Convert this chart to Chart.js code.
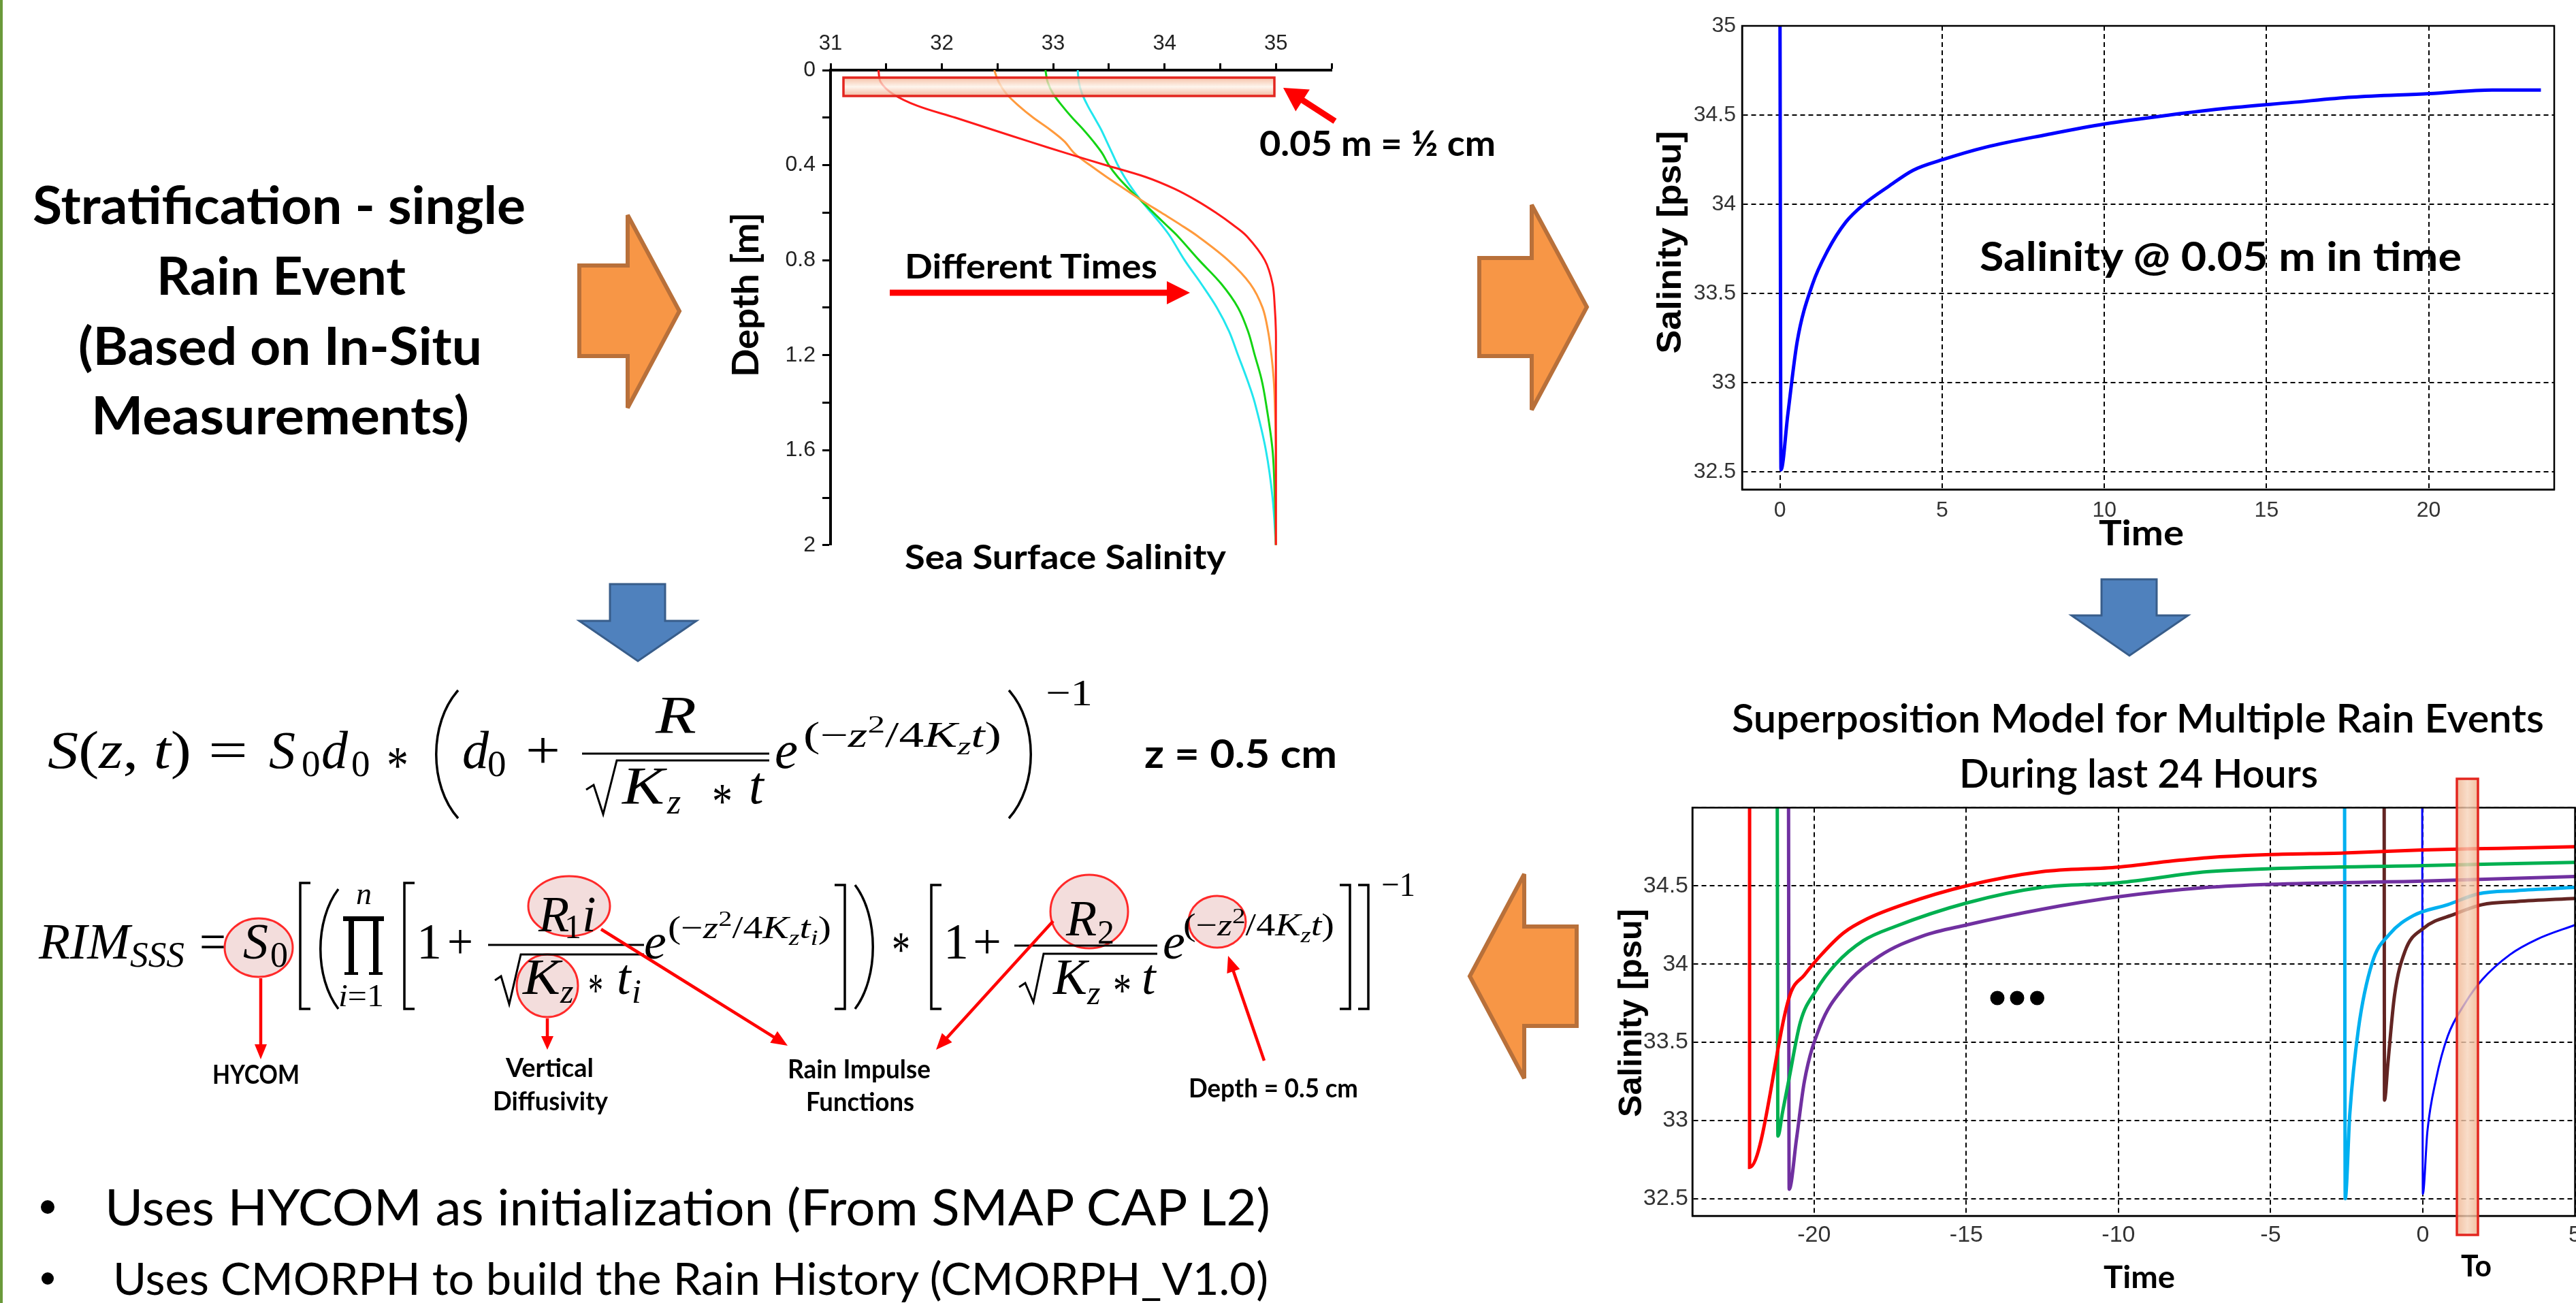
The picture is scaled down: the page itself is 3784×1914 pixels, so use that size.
<!DOCTYPE html>
<html>
<head>
<meta charset="utf-8">
<script src="https://cdn.jsdelivr.net/npm/chart.js@4.4.1/dist/chart.umd.min.js"></script>
<style>
  html, body { margin: 0; padding: 0; background: #fff; overflow: hidden; width: 3784px; height: 1914px; }
  canvas { position: absolute; }
  #deco { position: absolute; left: 0; top: 0; }
</style>
</head>
<body>
<canvas id="profile" width="880" height="800" style="left:1100px;top:30px;width:880px;height:800px"></canvas>
<canvas id="single" width="1311" height="769" style="left:2459px;top:0px;width:1311px;height:769px"></canvas>
<canvas id="multi" width="1414" height="671" style="left:2386px;top:1160px;width:1414px;height:671px"></canvas>
<svg id="deco" width="3784" height="1914" xmlns="http://www.w3.org/2000/svg">
  <defs>
    <linearGradient id="boxGrad" x1="0" y1="0" x2="0" y2="1">
      <stop offset="0" stop-color="#f3b08e"/>
      <stop offset="0.5" stop-color="#fdf2e8"/>
      <stop offset="1" stop-color="#efa988"/>
    </linearGradient>
    <linearGradient id="toGrad" x1="0" y1="0" x2="1" y2="0">
      <stop offset="0" stop-color="#eeb08a"/>
      <stop offset="0.5" stop-color="#f7d4bb"/>
      <stop offset="1" stop-color="#eeb08a"/>
    </linearGradient>
  </defs>
</svg>
<script>
// depth profiles (salinity vs depth, single rain event)
const depthLevels = [0, 0.05, 0.1, 0.15, 0.2, 0.25, 0.3, 0.35, 0.4, 0.45, 0.5, 0.55, 0.6, 0.65, 0.7, 0.8, 0.9, 1.0, 1.1, 1.2, 1.3, 1.4, 1.6, 1.8, 2.0];
const redProfile    = [31.43, 31.45, 31.56, 31.78, 32.12, 32.45, 32.78, 33.12, 33.47, 33.83, 34.09, 34.29, 34.46, 34.61, 34.74, 34.90, 34.97, 34.99, 35, 35, 35, 35, 35, 35, 35];
const orangeProfile = [32.47, 32.51, 32.58, 32.69, 32.82, 32.97, 33.10, 33.19, 33.33, 33.48, 33.64, 33.80, 33.97, 34.14, 34.30, 34.57, 34.77, 34.88, 34.93, 34.96, 34.98, 34.99, 35, 35, 35];
const greenProfile  = [32.93, 32.95, 33.00, 33.08, 33.17, 33.27, 33.36, 33.44, 33.50, 33.58, 33.68, 33.79, 33.90, 34.01, 34.12, 34.31, 34.51, 34.66, 34.75, 34.81, 34.87, 34.91, 34.97, 34.99, 35];
const cyanProfile   = [33.22, 33.23, 33.26, 33.31, 33.37, 33.43, 33.48, 33.53, 33.58, 33.64, 33.71, 33.79, 33.88, 33.97, 34.05, 34.18, 34.33, 34.47, 34.58, 34.66, 34.74, 34.81, 34.91, 34.97, 35];

// salinity at 0.05 m in time
const singleTime = [0, 0.03, 0.24, 0.53, 1.0, 1.47, 2.03, 2.59, 3.35, 4.10, 5.02, 6.35, 8.23, 10.02, 12.0, 13.87, 15.75, 17.63, 20.02, 21.96, 23.46];
const singleSal  = [35, 32.51, 32.82, 33.23, 33.55, 33.74, 33.90, 34.0, 34.10, 34.19, 34.25, 34.32, 34.39, 34.45, 34.50, 34.54, 34.57, 34.60, 34.62, 34.64, 34.64];

// superposition of rain events during last 24 hours
const redT    = [-22.12, -22.12, -20.78, -20.32, -19.81, -19.03, -18.25, -17.08, -15, -12.53, -10, -8.2, -7.1, -5, -2.6, 0, 2.5, 5];
const redS    = [35, 32.7, 33.81, 33.93, 34.05, 34.2, 34.29, 34.38, 34.5, 34.59, 34.62, 34.66, 34.68, 34.70, 34.71, 34.73, 34.74, 34.75];
const greenT  = [-21.21, -21.19, -21.04, -20.84, -20.45, -19.94, -19.29, -18.38, -17.34, -15, -12.53, -10, -7.1, -5, 0, 5];
const greenS  = [35, 32.9, 33.05, 33.25, 33.63, 33.83, 34.0, 34.15, 34.24, 34.39, 34.49, 34.52, 34.59, 34.61, 34.63, 34.65];
const purpleT = [-20.84, -20.82, -20.58, -20.32, -19.81, -19.03, -17.86, -16.43, -15, -12.53, -10, -7.1, -5, 0, 5];
const purpleS = [35, 32.56, 32.88, 33.25, 33.6, 33.85, 34.05, 34.18, 34.25, 34.35, 34.43, 34.49, 34.51, 34.53, 34.56];
const cyanT   = [-2.57, -2.55, -2.40, -2.12, -1.66, -1.10, -0.31, 0.82, 1.84, 3.09, 5];
const cyanS   = [35, 32.5, 33.04, 33.58, 34.01, 34.19, 34.31, 34.38, 34.45, 34.47, 34.49];
const brownT  = [-1.27, -1.26, -1.15, -0.93, -0.59, 0.03, 1.05, 1.95, 3.09, 5];
const brownS  = [35, 33.13, 33.36, 33.80, 34.08, 34.23, 34.32, 34.38, 34.40, 34.42];
const blueT   = [-0.02, 0, 0.15, 0.43, 0.82, 1.39, 1.95, 2.86, 3.77, 5];
const blueS   = [35, 32.53, 32.93, 33.26, 33.54, 33.75, 33.90, 34.06, 34.16, 34.25];

const ARIAL = "'Liberation Sans', Arial, sans-serif";
const NARROW = "'Liberation Sans Narrow', 'Liberation Sans', Arial, sans-serif";
const SANS = "Lato, 'Open Sans', sans-serif";
const SERIF = "'Liberation Serif', 'DejaVu Serif', serif";

const pairs = (xs, ys) => xs.map((x, i) => ({ x: x, y: ys[i] }));
const profile = sal => depthLevels.map((d, i) => ({ x: sal[i], y: d }));
const isWhole = v => Math.abs(v - Math.round(v)) < 1e-6;
const trimmed = v => String(Math.round(v * 10) / 10);

const frame = {
  id: 'frame',
  afterDatasetsDraw(chart, args, opts) {
    const a = chart.chartArea, ctx = chart.ctx;
    ctx.save();
    ctx.strokeStyle = '#000';
    ctx.lineWidth = opts.width;
    ctx.strokeRect(a.left, a.top, a.right - a.left, a.bottom - a.top);
    ctx.restore();
  }
};

const line = (data, color, w, mode) => ({
  data: data, borderColor: color, borderWidth: w, pointRadius: 0, fill: false,
  tension: mode ? 0 : 0.35, cubicInterpolationMode: mode || 'default'
});

new Chart(document.getElementById('profile'), {
  type: 'line',
  data: {
    datasets: [
      line(profile(redProfile), '#ff1a1a', 3),
      line(profile(orangeProfile), '#ff9a3c', 3),
      line(profile(greenProfile), '#14d414', 3),
      line(profile(cyanProfile), '#22e6ee', 3)
    ]
  },
  options: {
    responsive: false, animation: false,
    layout: { padding: { top: 0, right: 24, bottom: 26, left: 0 } },
    plugins: { legend: { display: false }, tooltip: { enabled: false } },
    scales: {
      x: {
        type: 'linear', position: 'top', min: 31, max: 35.5,
        afterFit: s => { s.height = 73; },
        ticks: { stepSize: 0.5, autoSkip: false, maxRotation: 0, padding: 10, color: '#222',
                 font: { family: ARIAL, size: 31 }, callback: v => isWhole(v) ? String(Math.round(v)) : '' },
        grid: { drawOnChartArea: false, drawTicks: true, tickLength: 10, tickWidth: 3, tickColor: '#000' },
        border: { display: true, color: '#000', width: 4 }
      },
      y: {
        type: 'linear', reverse: true, min: 0, max: 2,
        afterFit: s => { s.width = 120; },
        ticks: { stepSize: 0.2, autoSkip: false, padding: 10, color: '#222', font: { family: ARIAL, size: 32 },
                 callback: v => Math.round(v * 10) % 4 === 0 ? trimmed(v) : '' },
        grid: { drawOnChartArea: false, drawTicks: true, tickLength: 12, tickWidth: 3, tickColor: '#000' },
        border: { display: true, color: '#000', width: 4 }
      }
    }
  }
});

const matlabGrid = { color: '#000', lineWidth: 2, drawTicks: false };
const matlabBorder = { display: true, color: '#000', width: 2.5, dash: [7, 5] };

new Chart(document.getElementById('single'), {
  type: 'line',
  data: { datasets: [line(pairs(singleTime, singleSal), '#0000ff', 5, 'monotone')] },
  options: {
    responsive: false, animation: false,
    layout: { padding: { top: 38, right: 18, bottom: 0, left: 0 } },
    plugins: { legend: { display: false }, tooltip: { enabled: false }, frame: { width: 2.5 } },
    scales: {
      x: {
        type: 'linear', min: -1.17, max: 23.87,
        afterFit: s => { s.height = 50; },
        ticks: { stepSize: 5, includeBounds: false, autoSkip: false, maxRotation: 0, padding: 12, color: '#333',
                 font: { family: ARIAL, size: 32 } },
        grid: matlabGrid, border: matlabBorder
      },
      y: {
        type: 'linear', min: 32.4, max: 35,
        afterFit: s => { s.width = 100; },
        ticks: { stepSize: 0.5, includeBounds: false, autoSkip: false, padding: 9, color: '#333',
                 font: { family: ARIAL, size: 32 }, callback: trimmed },
        grid: matlabGrid, border: matlabBorder
      }
    }
  },
  plugins: [frame]
});

new Chart(document.getElementById('multi'), {
  type: 'line',
  data: {
    datasets: [
      line(pairs(redT, redS), '#ff0000', 5, 'monotone'),
      line(pairs(greenT, greenS), '#00b050', 5, 'monotone'),
      line(pairs(purpleT, purpleS), '#7030a0', 5, 'monotone'),
      line(pairs(cyanT, cyanS), '#00b0f0', 5, 'monotone'),
      line(pairs(brownT, brownS), '#632523', 5, 'monotone'),
      line(pairs(blueT, blueS), '#0000ff', 3, 'monotone')
    ]
  },
  options: {
    responsive: false, animation: false,
    layout: { padding: { top: 15, right: 15, bottom: 0, left: 0 } },
    plugins: { legend: { display: false }, tooltip: { enabled: false }, frame: { width: 2.5 } },
    scales: {
      x: {
        type: 'linear', min: -24, max: 5,
        afterFit: s => { s.height = 45; },
        ticks: { stepSize: 5, includeBounds: false, autoSkip: false, maxRotation: 0, padding: 8, color: '#333',
                 font: { family: NARROW, size: 34 } },
        grid: matlabGrid, border: matlabBorder
      },
      y: {
        type: 'linear', min: 32.39, max: 35,
        afterFit: s => { s.width = 100; },
        ticks: { stepSize: 0.5, includeBounds: false, autoSkip: false, padding: 6, color: '#333',
                 font: { family: NARROW, size: 34 }, callback: v => Math.abs(v - 35) < 1e-6 ? '' : trimmed(v) },
        grid: matlabGrid, border: matlabBorder
      }
    }
  },
  plugins: [frame]
});

// slide decoration: text, arrows, formulas
const svg = document.getElementById('deco');
function mk(tag, attrs, parent) {
  const e = document.createElementNS('http://www.w3.org/2000/svg', tag);
  for (const k in attrs) e.setAttribute(k, attrs[k]);
  (parent || svg).appendChild(e);
  return e;
}
function tx(str, x, y, o) {
  o = o || {};
  const a = { x: x, y: y, 'font-family': o.font || SANS, 'font-size': o.size || 40,
              'font-weight': o.weight || (o.bold ? 'bold' : 'normal'), fill: o.fill || '#000' };
  if (o.italic) a['font-style'] = 'italic';
  if (o.w) { a.textLength = o.w; a.lengthAdjust = 'spacingAndGlyphs'; }
  if (o.anchor) a['text-anchor'] = o.anchor;
  if (o.rot) a.transform = 'rotate(' + o.rot + ' ' + x + ' ' + y + ')';
  const t = mk('text', a);
  t.textContent = str;
  return t;
}
function mseg(x, y, size, segs, w) {
  const a = { x: x, y: y, 'font-family': SERIF, 'font-size': size };
  if (w) { a.textLength = w; a.lengthAdjust = 'spacingAndGlyphs'; }
  const t = mk('text', a);
  segs.forEach(s => {
    const ts = mk('tspan', { 'font-style': s[1] ? 'italic' : 'normal' }, t);
    ts.textContent = s[0];
  });
}
function mi(str, x, y, size, w) { return tx(str, x, y, { font: SERIF, size: size, italic: true, w: w }); }
function mu(str, x, y, size, w) { return tx(str, x, y, { font: SERIF, size: size, w: w }); }
function expo(x, y, w, size, withI) {
  const t = mk('text', { x: x, y: y, 'font-family': SERIF, 'font-size': size, textLength: w, lengthAdjust: 'spacingAndGlyphs' });
  const parts = [['(', 0, 0], ['\u2212', 0, 0], ['z', 1, 0], ['2', 0, -0.4, 0.7], ['/4', 0, 0], ['K', 1, 0], ['z', 1, 0.22, 0.7], ['t', 1, 0]];
  if (withI) parts.push(['i', 1, 0.22, 0.7]);
  parts.push([')', 0, 0]);
  let cur = 0;
  parts.forEach(p => {
    const off = p[2] * size;
    const ts = mk('tspan', { 'font-style': p[1] ? 'italic' : 'normal', 'font-size': size * (p[3] || 1), dy: off - cur }, t);
    cur = off;
    ts.textContent = p[0];
  });
}
function path(d, w, color) { return mk('path', { d: d, fill: 'none', stroke: color || '#000', 'stroke-width': w || 3 }); }
function bar(x1, x2, y, w) { mk('line', { x1: x1, y1: y, x2: x2, y2: y, stroke: '#000', 'stroke-width': w || 3 }); }
function arrow(x1, y1, x2, y2, w, hl, hw, color) {
  const dx = x2 - x1, dy = y2 - y1, L = Math.hypot(dx, dy), ux = dx / L, uy = dy / L;
  const bx = x2 - ux * hl, by = y2 - uy * hl;
  mk('line', { x1: x1, y1: y1, x2: bx + ux * 2, y2: by + uy * 2, stroke: color, 'stroke-width': w });
  mk('polygon', { points: x2 + ',' + y2 + ' ' + (bx - uy * hw) + ',' + (by + ux * hw) + ' ' + (bx + uy * hw) + ',' + (by - ux * hw), fill: color });
}
function ring(cx, cy, rx, ry) {
  mk('ellipse', { cx: cx, cy: cy, rx: rx, ry: ry, fill: '#f2d9d8', 'fill-opacity': 0.9, stroke: '#ff2a2a', 'stroke-width': 3 });
}

// left border
mk('rect', { x: 0, y: 0, width: 4, height: 1914, fill: '#6a9a3a' });

// left title block
tx('Stratification - single', 48, 329, { size: 76, bold: true, w: 724 });
tx('Rain Event', 230, 433, { size: 76, bold: true, w: 366 });
tx('(Based on In-Situ', 115, 536, { size: 76, bold: true, w: 593 });
tx('Measurements)', 134, 638, { size: 76, bold: true, w: 555 });

// block arrows
const orange = { fill: '#f79646', stroke: '#b8703a', 'stroke-width': 6, 'stroke-linejoin': 'miter' };
mk('polygon', Object.assign({ points: '851,390 922,390 922,316 998,457 922,599 922,523 851,523' }, orange));
mk('polygon', Object.assign({ points: '2173,379 2250,379 2250,301 2331,451 2250,602 2250,523 2173,523' }, orange));
mk('polygon', Object.assign({ points: '2316,1361 2239,1361 2239,1284 2159,1434 2239,1584 2239,1507 2316,1507' }, orange));
const blue = { fill: '#4f81bd', stroke: '#385d8a', 'stroke-width': 3 };
mk('polygon', Object.assign({ points: '896,858 977,858 977,912 1023,912 937,971 851,912 896,912' }, blue));
mk('polygon', Object.assign({ points: '3087,851 3168,851 3168,904 3214,904 3128,963 3043,904 3087,904' }, blue));

// profile chart annotations
mk('rect', { x: 1239, y: 114, width: 633, height: 27, fill: 'url(#boxGrad)', 'fill-opacity': 0.78, stroke: '#e3261f', 'stroke-width': 3.5 });
arrow(1961, 178, 1885, 129, 9, 34, 19, '#ff0000');
tx('0.05 m = \u00bd cm', 1850, 229, { size: 52, bold: true, w: 347 });
tx('Different Times', 1329, 409, { size: 50, bold: true, w: 371 });
arrow(1307, 430, 1748, 430, 9, 34, 17, '#ff0000');
tx('Depth [m]', 1114, 433, { size: 54, bold: true, w: 242, anchor: 'middle', rot: -90 });
tx('Sea Surface Salinity', 1329, 836, { size: 50, bold: true, w: 472 });

// single event chart labels
tx('Salinity [psu]', 2469, 356, { font: ARIAL, size: 50, bold: true, w: 327, anchor: 'middle', rot: -90 });
tx('Time', 3083, 801, { size: 52, bold: true, w: 125 });
tx('Salinity @ 0.05 m in time', 2908, 398, { size: 60, bold: true, w: 708 });

// superposition chart labels
tx('Superposition Model for Multiple Rain Events', 2544, 1076, { size: 58, weight: 600, w: 1193 });
tx('During last 24 Hours', 2878, 1157, { size: 58, weight: 600, w: 527 });
tx('Salinity [psu]', 2411, 1488, { font: ARIAL, size: 48, bold: true, w: 306, anchor: 'middle', rot: -90 });
tx('Time', 3090, 1892, { size: 46, bold: true, w: 105 });
[2934, 2963, 2992.5].forEach(cx => mk('circle', { cx: cx, cy: 1466, r: 10.5, fill: '#000' }));
mk('rect', { x: 3609, y: 1144, width: 31, height: 670, fill: 'url(#toGrad)', 'fill-opacity': 0.8, stroke: '#e3261f', 'stroke-width': 3.5 });
tx('To', 3615, 1875, { size: 44, bold: true, w: 45 });

// formula 1
mseg(70, 1128, 78, [['S', 1], ['(', 0], ['z', 1], [', ', 0], ['t', 1], [')', 0]], 211);
mu('=', 306, 1128, 78, 58);
mi('S', 395, 1128, 78); mu('0', 443, 1140, 55);
mi('d', 472, 1128, 78); mu('0', 516, 1140, 55);
mu('*', 568, 1150, 78, 32);
path('M673,1014 C630,1062 630,1154 673,1202', 3.5);
mi('d', 679, 1128, 78); mu('0', 716, 1140, 55);
mu('+', 772, 1128, 78, 51);
bar(855, 1130, 1107, 3);
mi('R', 963, 1076, 78, 60);
path('M861,1160 L872,1153 L886,1196 L906,1117 L1130,1117', 3);
mi('K', 914, 1180, 78, 62); mi('z', 980, 1195, 52);
mu('*', 1046, 1202, 74, 30);
mi('t', 1100, 1180, 78);
mi('e', 1138, 1128, 78, 34);
expo(1180, 1097, 291, 52, false);
path('M1482,1014 C1525,1062 1525,1154 1482,1202', 3.5);
mu('\u22121', 1536, 1036, 55, 69);
tx('z = 0.5 cm', 1681, 1128, { size: 58, bold: true, w: 283 });

// formula 2 (rings behind the glyphs)
ring(380, 1392, 50, 43);
ring(836, 1331, 60, 44);
ring(804, 1448, 45, 46);
ring(1600, 1339, 57, 54);
ring(1788, 1354, 42, 38);
mi('RIM', 57, 1408, 74, 134);
mi('SSS', 191, 1420, 52, 80);
mu('=', 293, 1408, 74, 39);
mi('S', 357, 1408, 74); mu('0', 397, 1420, 52);
path('M456,1297 H441 V1482 H456', 3.5);
path('M497,1306 C462,1352 462,1436 497,1482', 3.5);
mk('path', { d: 'M504,1346 H564 V1353 H556 V1428 H562 V1432 H542 V1428 H548 V1353 H520 V1428 H526 V1432 H506 V1428 H512 V1353 H504 Z', fill: '#000' });
mi('n', 523, 1328, 46);
mseg(497, 1478, 46, [['i', 1], ['=1', 0]], 67);
path('M609,1297 H594 V1482 H609', 3.5);
mu('1', 612, 1408, 74); mu('+', 657, 1408, 74, 38);
bar(717, 946, 1388, 3);
mi('R', 791, 1368, 74); mu('1', 829, 1378, 50); mi('i', 855, 1368, 74);
path('M727,1440 L736,1434 L748,1475 L765,1402 L946,1402', 3);
mi('K', 768, 1460, 74, 55); mi('z', 823, 1473, 50);
mu('*', 864, 1478, 70, 22);
mi('t', 906, 1460, 74); mi('i', 928, 1473, 50);
mi('e', 946, 1408, 74);
expo(981, 1378, 240, 46, true);
path('M1226,1300 H1241 V1482 H1226', 3.5);
path('M1256,1300 C1291,1346 1291,1436 1256,1482', 3.5);
mu('*', 1310, 1420, 74, 27);
path('M1383,1300 H1368 V1482 H1383', 3.5);
mu('1', 1386, 1408, 74); mu('+', 1429, 1408, 74, 42);
bar(1490, 1700, 1389, 3);
mi('R', 1566, 1374, 74); mu('2', 1612, 1386, 50);
path('M1497,1450 L1506,1444 L1518,1472 L1533,1401 L1700,1401', 3);
mi('K', 1547, 1460, 74, 50); mi('z', 1597, 1475, 50);
mu('*', 1635, 1478, 70, 27);
mi('t', 1677, 1460, 74);
mi('e', 1708, 1408, 74);
expo(1738, 1374, 222, 46, false);
path('M1968,1300 H1983 V1482 H1968', 3.5);
path('M1995,1300 H2010 V1482 H1995', 3.5);
mu('\u22121', 2029, 1316, 50, 50);

// formula callouts
arrow(383, 1437, 383, 1556, 4.5, 22, 9, '#ff0000');
arrow(804, 1496, 804, 1542, 4.5, 20, 9, '#ff0000');
arrow(883, 1365, 1157, 1536, 4.5, 24, 10, '#ff0000');
arrow(1547, 1353, 1375, 1542, 4.5, 24, 10, '#ff0000');
arrow(1857, 1558, 1804, 1404, 4.5, 24, 10, '#ff0000');
tx('HYCOM', 312, 1592, { size: 38, bold: true, w: 128 });
tx('Vertical', 743, 1582, { size: 38, bold: true, w: 129 });
tx('Diffusivity', 724, 1631, { size: 38, bold: true, w: 169 });
tx('Rain Impulse', 1157, 1584, { size: 38, bold: true, w: 210 });
tx('Functions', 1184, 1632, { size: 38, bold: true, w: 159 });
tx('Depth = 0.5 cm', 1746, 1612, { size: 38, bold: true, w: 249 });

// bullets
mk('circle', { cx: 70, cy: 1773, r: 10, fill: '#000' });
mk('circle', { cx: 70, cy: 1878, r: 9, fill: '#000' });
tx('Uses HYCOM as initialization (From SMAP CAP L2)', 154, 1800, { size: 74, w: 1712 });
tx('Uses CMORPH to build the Rain History (CMORPH_V1.0)', 166, 1902, { size: 66, w: 1697 });
</script>
</body>
</html>
